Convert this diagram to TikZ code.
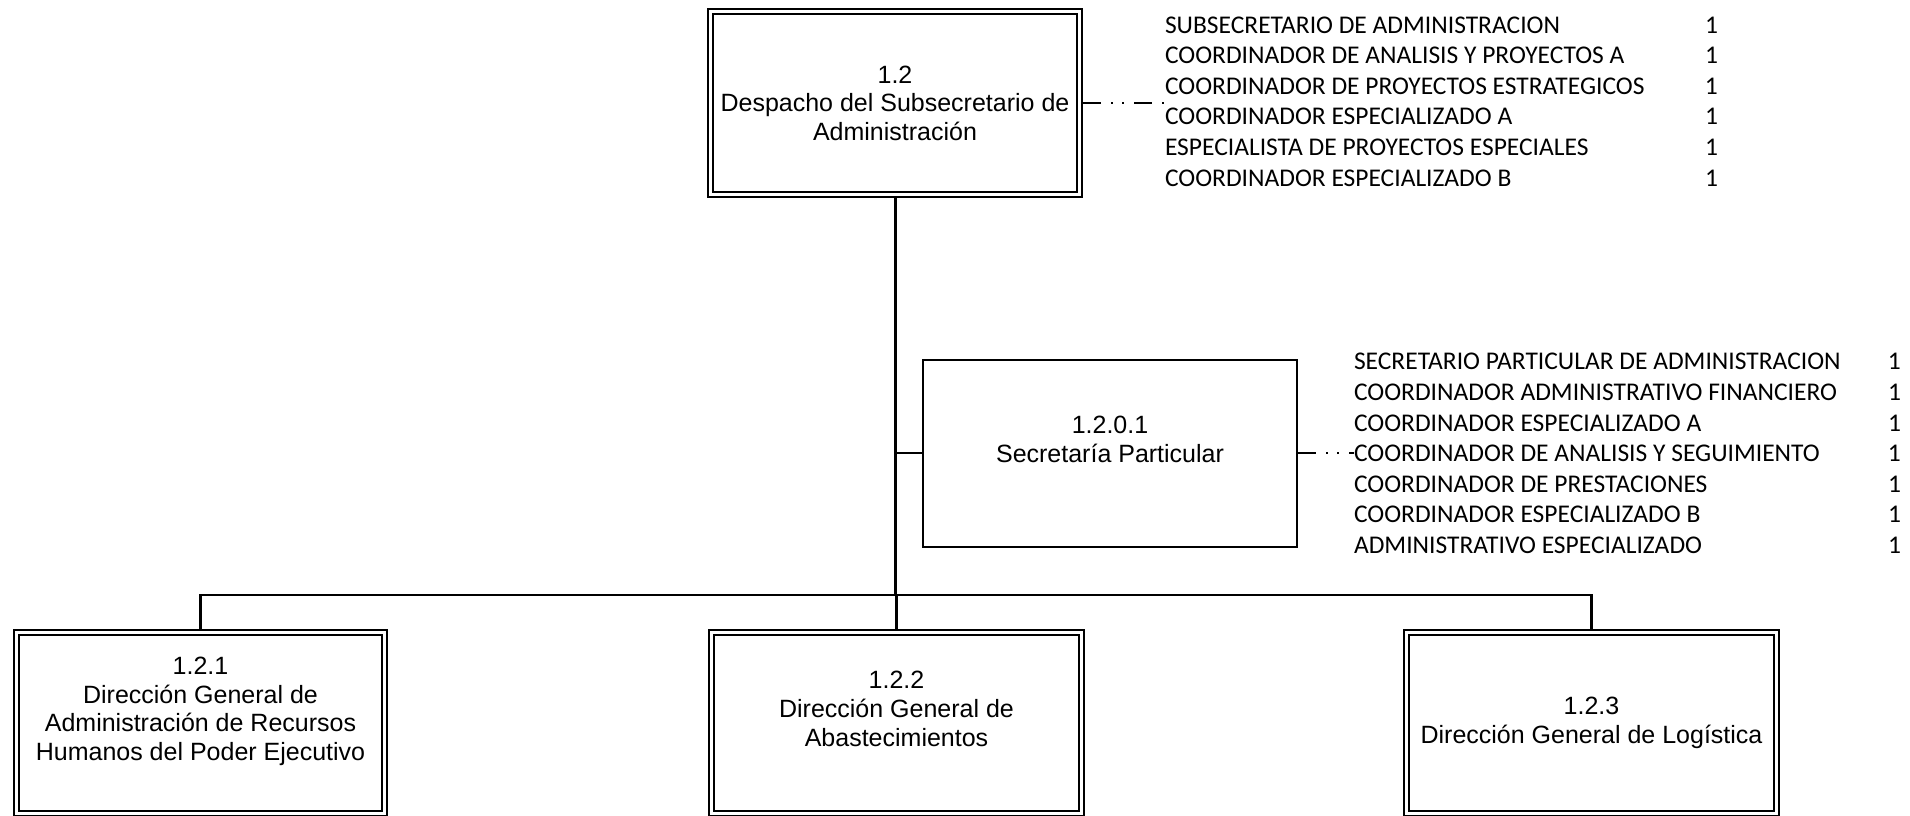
\documentclass[tikz,border=0pt]{standalone}
\usepackage{fontspec}
\setmainfont{Liberation Sans}
\newfontfamily\listfont{Carlito}
\begin{document}
\begin{tikzpicture}[x=1pt,y=-1pt,
  unitbox/.style={draw, double, line width=1.6pt, double distance=3.4pt,
    outer sep=3.3pt, inner sep=0pt, align=center,
    font=\fontsize{25pt}{28.6pt}\selectfont},
  staffbox/.style={draw, line width=2pt, outer sep=1pt, inner sep=0pt,
    align=center, minimum width=374pt, minimum height=187pt,
    font=\fontsize{25pt}{28.6pt}\selectfont},
  staffing/.style={inner sep=0pt, outer sep=0pt, anchor=west, align=left,
    font=\listfont\fontsize{25.5pt}{30.6pt}\selectfont},
  dashdot/.style={line width=2pt,
    dash pattern=on 18pt off 10pt on 2pt off 9pt on 2pt off 10pt},
  trunk/.style={line width=3pt},
  branch/.style={line width=2.2pt}
]
\useasboundingbox (0,0) rectangle (1910,815);

% units
\node[unitbox, minimum width=369.4pt, minimum height=183.4pt] (sub) at (895,103)
  {1.2\\Despacho del Subsecretario de\\Administración};
\node[staffbox] (sec) at (1110,453.5)
  {1.2.0.1\\Secretaría Particular\\\mbox{}};
\node[unitbox, minimum width=368.4pt, minimum height=181.4pt] (rh) at (200.5,723)
  {1.2.1\\Dirección General de\\Administración de Recursos\\Humanos del Poder Ejecutivo\\\mbox{}};
\node[unitbox, minimum width=370.4pt, minimum height=181.4pt] (ab) at (896.5,723)
  {1.2.2\\Dirección General de\\Abastecimientos\\\mbox{}};
\node[unitbox, minimum width=370.4pt, minimum height=181.4pt] (lg) at (1591.5,723)
  {1.2.3\\Dirección General de Logística};

% staffing lists
\node[staffing] (list1) at (1165,101.5) {%
  \makebox[540pt][l]{SUBSECRETARIO DE ADMINISTRACION}1\\
  \makebox[540pt][l]{COORDINADOR DE ANALISIS Y PROYECTOS A}1\\
  \makebox[540pt][l]{COORDINADOR DE PROYECTOS ESTRATEGICOS}1\\
  \makebox[540pt][l]{COORDINADOR ESPECIALIZADO A}1\\
  \makebox[540pt][l]{ESPECIALISTA DE PROYECTOS ESPECIALES}1\\
  \makebox[540pt][l]{COORDINADOR ESPECIALIZADO B}1};
\node[staffing] (list2) at (1354,453.5) {%
  \makebox[534pt][l]{SECRETARIO PARTICULAR DE ADMINISTRACION}1\\
  \makebox[534pt][l]{COORDINADOR ADMINISTRATIVO FINANCIERO}1\\
  \makebox[534pt][l]{COORDINADOR ESPECIALIZADO A}1\\
  \makebox[534pt][l]{COORDINADOR DE ANALISIS Y SEGUIMIENTO}1\\
  \makebox[534pt][l]{COORDINADOR DE PRESTACIONES}1\\
  \makebox[534pt][l]{COORDINADOR ESPECIALIZADO B}1\\
  \makebox[534pt][l]{ADMINISTRATIVO ESPECIALIZADO}1};

% hierarchy lines
\coordinate (bus) at (897,595);
\coordinate (sj) at (897,453);
\draw[trunk] (sub.south) -- (sub.south |- bus);
\draw[branch] (sj) -- (sec.west |- sj);
\draw[branch] (rh.north) -- (rh.north |- bus) -- (lg.north |- bus) -- (lg.north);
\draw[branch] (ab.north |- bus) -- (ab.north);

% dotted links to the staffing lists
\draw[dashdot] (sub.east) -- (sub.east -| list1.west);
\draw[dashdot] (sec.east |- sj) -- (sj -| list2.west);
\end{tikzpicture}
\end{document}
